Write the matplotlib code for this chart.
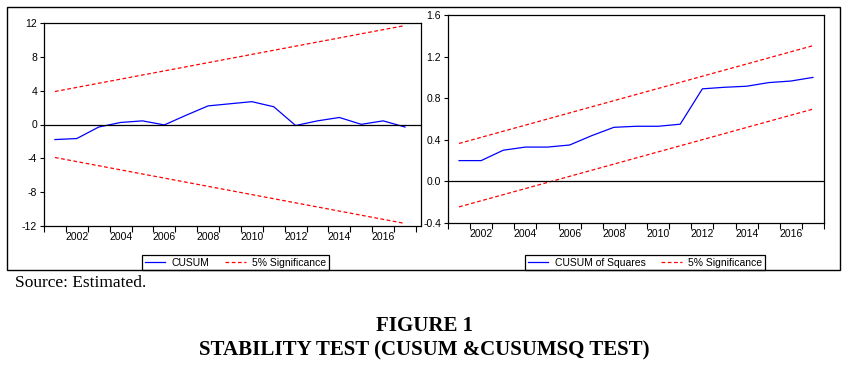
import matplotlib.pyplot as plt
from matplotlib.patches import Rectangle
import numpy as np

# datos
years = list(range(2001, 2018))
cusum = [-1.78, -1.66, -0.3, 0.24, 0.43, -0.05, 1.1, 2.2, 2.45, 2.7, 2.1,
         -0.12, 0.43, 0.83, 0.02, 0.43, -0.3]
cusumsq = [0.20, 0.20, 0.30, 0.33, 0.33, 0.35, 0.44, 0.52, 0.53, 0.53, 0.55,
           0.89, 0.905, 0.915, 0.95, 0.965, 1.0]

sig_years = [2001, 2017]
cusum_upper = [3.9, 11.7]
cusum_lower = [-3.9, -11.7]
sq_upper = [0.365, 1.305]
sq_lower = [-0.245, 0.695]

label_years = [2002, 2004, 2006, 2008, 2010, 2012, 2014, 2016]
cusum_yticks = [-12, -8, -4, 0, 4, 8, 12]
sq_yticks = [-0.4, 0.0, 0.4, 0.8, 1.2, 1.6]

plt.rcParams['font.family'] = ['Liberation Sans', 'DejaVu Sans']

W, H = 850, 380
fig = plt.figure(figsize=(8.5, 3.8), dpi=100)


def box(x0, y0, x1, y1):
    # pixeles -> fraccion de figura
    return [x0 / W, 1 - y1 / H, (x1 - x0) / W, (y1 - y0) / H]


def style_axis(ax, xmax):
    ax.set_xlim(2000.5, xmax)
    bounds = np.arange(2000.5, 2018, 1.0)
    ax.set_xticks(bounds)
    ax.set_xticklabels([])
    ax.set_xticks(label_years, minor=True)
    ax.set_xticklabels([str(y) for y in label_years], minor=True, fontsize=7.5)
    ax.tick_params(axis='x', which='major', direction='out', length=4, width=0.8)
    ax.tick_params(axis='x', which='minor', length=0, pad=4)
    ax.tick_params(axis='y', direction='out', length=3, width=0.8, labelsize=7.5, pad=2)
    for s in ax.spines.values():
        s.set_linewidth(0.9)
    ax.axhline(0, color='black', lw=0.9)


# CUSUM
ax1 = fig.add_axes(box(44, 23, 421, 226))
ax1.plot(years, cusum, '-', color='#0000ff', lw=0.9, label='CUSUM')
ax1.plot(sig_years, cusum_upper, color='#ff0000', lw=0.9, ls=(0, (3, 2)),
         label='5% Significance')
ax1.plot(sig_years, cusum_lower, color='#ff0000', lw=0.9, ls=(0, (3, 2)))
ax1.set_ylim(-12, 12)
ax1.set_yticks(cusum_yticks)
ax1.set_yticklabels([str(v) for v in cusum_yticks])
style_axis(ax1, 2017.73)

# CUSUM of squares
ax2 = fig.add_axes(box(448, 15, 824, 223))
ax2.plot(years, cusumsq, '-', color='#0000ff', lw=0.9, label='CUSUM of Squares')
ax2.plot(sig_years, sq_upper, color='#ff0000', lw=0.9, ls=(0, (3, 2)),
         label='5% Significance')
ax2.plot(sig_years, sq_lower, color='#ff0000', lw=0.9, ls=(0, (3, 2)))
ax2.set_ylim(-0.4, 1.6)
ax2.set_yticks(sq_yticks)
ax2.set_yticklabels(['%.1f' % v for v in sq_yticks])
style_axis(ax2, 2017.5)

for ax, cx in [(ax1, 235.5), (ax2, 645)]:
    leg = ax.legend(loc='center', bbox_to_anchor=(cx / W, 1 - 262.5 / H),
                    bbox_transform=fig.transFigure, ncol=2, fontsize=7.5,
                    frameon=True, fancybox=False, framealpha=1, edgecolor='black',
                    borderpad=0.25, handlelength=2.0, handletextpad=0.6,
                    columnspacing=1.5, borderaxespad=0)
    leg.get_frame().set_linewidth(0.9)

# marco exterior
fig.patches.append(Rectangle((7 / W, 1 - 270 / H), 833 / W, 263 / H,
                             transform=fig.transFigure, fill=False,
                             edgecolor='black', lw=1.0))

fig.text(15 / W, 1 - 283 / H, 'Source: Estimated.', family='Liberation Serif',
         fontsize=12.5, ha='left', va='center')
fig.text(424 / W, 1 - 326 / H, 'FIGURE 1', family='Liberation Serif',
         fontsize=15, fontweight='bold', ha='center', va='center')
fig.text(424 / W, 1 - 350 / H, 'STABILITY TEST (CUSUM &CUSUMSQ TEST)',
         family='Liberation Serif', fontsize=15, fontweight='bold',
         ha='center', va='center')

fig.savefig('out.png', dpi=100)
